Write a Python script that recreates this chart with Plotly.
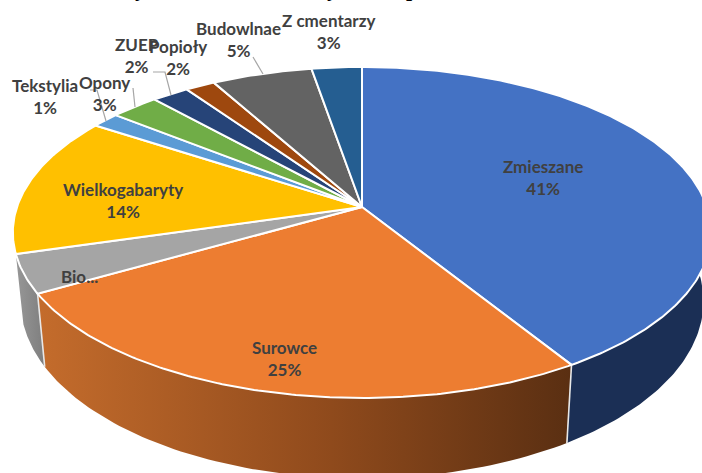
import numpy as np
import plotly.graph_objects as go

categories = ["Zmieszane", "Surowce", "Bio...", "Wielkogabaryty", "Tekstylia", "Opony", "ZUEP", "Popioły", "Budowlnae", "Z cmentarzy"]
shares = [41.15, 25.6, 3.75, 13.7, 1.5, 2.6, 2.0, 1.6, 5.4, 2.7]
shown_percent = ["41%", "25%", "", "14%", "1%", "3%", "2%", "2%", "5%", "3%"]
colors = ["#4472C4", "#ED7D31", "#A5A5A5", "#FFC000", "#5B9BD5", "#70AD47", "#264478", "#9E480E", "#636363", "#255E91"]
label_x = [543, 284, 79, 123, 45, 104, 137, 178, 238, 329]
label_y = [154, 335, 264, 177, 73, 70, 32, 34, 16, 8]

CX, CY, A, B, K = 362.0, 207.0, 345.0, 161.6, 0.154


def top_rim(f):
    t = 2 * np.pi * np.asarray(f)
    w = 1 + K * np.cos(t)
    return CX + A * np.sin(t) / w, CY - B * np.cos(t) / w


def low_rim(f):
    x, y = top_rim(f)
    return CX + 0.978 * (x - CX), 274 + 1.07 * (y - CY)


fracs = np.cumsum([0] + shares) / sum(shares)
fig = go.Figure()


def poly(x, y, **kw):
    fig.add_trace(go.Scatter(x=x, y=y, mode="lines", fill="toself", hoverinfo="skip", showlegend=False, **kw))


# Side walls
side_style = {
    0: dict(fillcolor="#1B2F55"),
    1: dict(fillgradient=dict(type="horizontal", colorscale=[[0, "#C46C2C"], [0.55, "#8F4A1C"], [1, "#5A2F12"]])),
    2: dict(fillgradient=dict(type="horizontal", colorscale=[[0, "#979797"], [1, "#7E7E7E"]])),
}
for i, st in side_style.items():
    f0 = max(fracs[i], 0.22)
    f1 = min(fracs[i + 1], 0.75)
    f = np.linspace(f0, f1, 80)
    tx, ty = top_rim(f)
    lx, ly = low_rim(f)
    poly(np.r_[tx, lx[::-1], tx[0]], np.r_[ty, ly[::-1], ty[0]], line=dict(width=0, color="rgba(0,0,0,0)"), **st)

# White seams between the walls
for b in (fracs[1], fracs[2]):
    tx, ty = top_rim(b)
    lx, ly = low_rim(b)
    fig.add_trace(go.Scatter(x=[tx, lx], y=[ty, ly], mode="lines", line=dict(color="#E8E8E8", width=1.6), hoverinfo="skip", showlegend=False))

# Top wedges
for i, c in enumerate(colors):
    f = np.linspace(fracs[i], fracs[i + 1], max(6, int(shares[i] * 6)))
    tx, ty = top_rim(f)
    poly(np.r_[CX, tx, CX], np.r_[CY, ty, CY], fillcolor=c, line=dict(color="white", width=2))

# Leader lines
leader_x = [[253, 263], [133, 135], [153, 165, 171], [90, 97, 106]]
leader_y = [[57, 74], [88, 107], [72, 72, 95], [90, 90, 121]]
for lx, ly in zip(leader_x, leader_y):
    fig.add_trace(go.Scatter(x=lx, y=ly, mode="lines", line=dict(color="#A6A6A6", width=1.2), hoverinfo="skip", showlegend=False))

for name, pct, x, y in zip(categories, shown_percent, label_x, label_y):
    text = f"<b>{name}</b>" + (f"<br><b>{pct}</b>" if pct else "")
    fig.add_annotation(x=x, y=y, text=text, showarrow=False, xanchor="center", yanchor="top",
                       align="center", font=dict(family="Lato", size=17, color="#404040"))

# Title cut off by the top edge: only descenders remain
for ch, x in zip(["y", "y", "p"], [140, 332, 412]):
    fig.add_annotation(x=x, y=2.8, text=f"<b>{ch}</b>", showarrow=False, xanchor="center", yanchor="bottom",
                       font=dict(family="Liberation Serif", size=22, color="black"))

fig.update_layout(
    width=702, height=473, margin=dict(l=0, r=0, t=0, b=0),
    paper_bgcolor="white", plot_bgcolor="white", showlegend=False,
    xaxis=dict(range=[0, 702], visible=False, fixedrange=True),
    yaxis=dict(range=[473, 0], visible=False, fixedrange=True),
)
fig.write_html("out.html", config=dict(displayModeBar=False),
               post_script="document.body.style.margin='0';document.documentElement.style.overflow='hidden';")
